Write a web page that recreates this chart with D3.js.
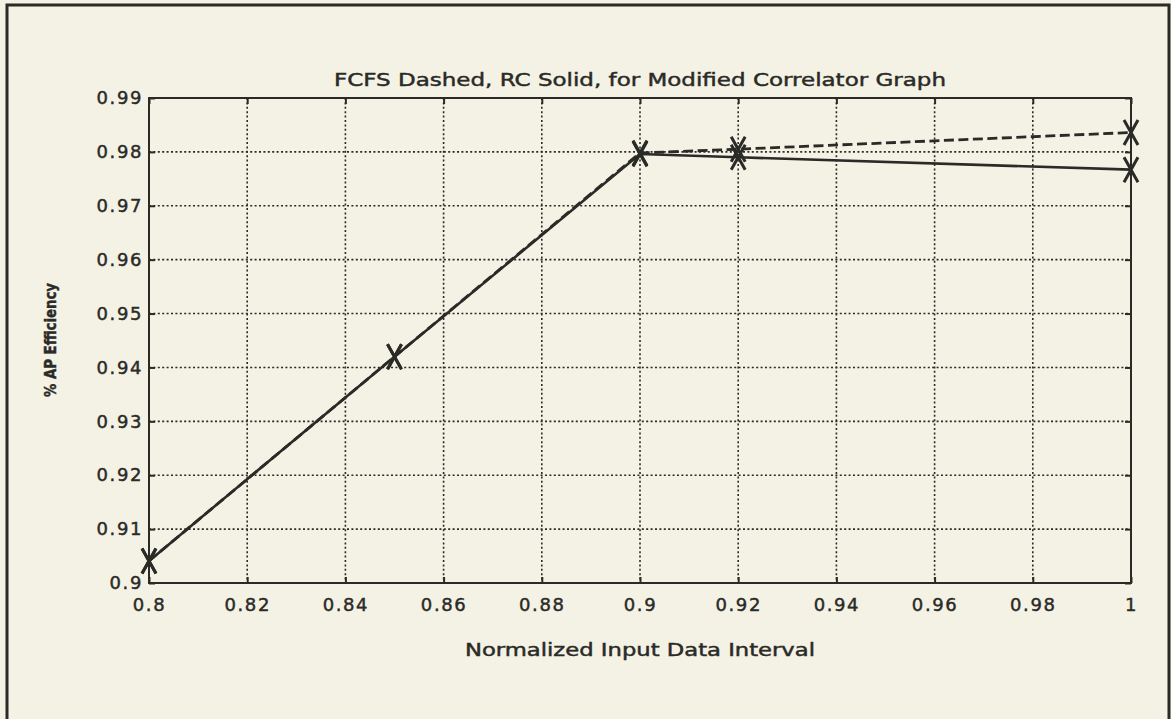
<!DOCTYPE html>
<html>
<head>
<meta charset="utf-8">
<script src="https://cdn.jsdelivr.net/npm/d3@7"></script>
<style>
  html, body { margin: 0; padding: 0; background: #f4f2e5; }
  svg { display: block; }
  text { font-family: "DejaVu Sans", sans-serif; fill: #2a2a27; stroke: #2a2a27; stroke-width: 0.45px; }
</style>
</head>
<body>
<svg id="chart" width="1171" height="719"></svg>
<script>
// Normalized input data interval (x) and AP efficiency for each scheduler
const intervals = [0.80, 0.85, 0.90, 0.92, 1.00];
const fcfsEfficiency = [0.9041, 0.9420, 0.9798, 0.9805, 0.9836];
const rcEfficiency = [0.9041, 0.9420, 0.9796, 0.9790, 0.9767];

const xTicks = [0.80, 0.82, 0.84, 0.86, 0.88, 0.90, 0.92, 0.94, 0.96, 0.98, 1.00];
const xTickLabels = ["0.8", "0.82", "0.84", "0.86", "0.88", "0.9", "0.92", "0.94", "0.96", "0.98", "1"];
const yTicks = [0.90, 0.91, 0.92, 0.93, 0.94, 0.95, 0.96, 0.97, 0.98, 0.99];
const yTickLabels = ["0.9", "0.91", "0.92", "0.93", "0.94", "0.95", "0.96", "0.97", "0.98", "0.99"];

const titleText = "FCFS Dashed, RC Solid, for Modified Correlator Graph";
const xLabelText = "Normalized Input Data Interval";
const yLabelText = "% AP Efficiency";

const ink = "#2a2a27";
const svg = d3.select("#chart");

// outer frame
svg.append("rect")
  .attr("x", 7).attr("y", 5).attr("width", 1162).attr("height", 730)
  .attr("fill", "none").attr("stroke", ink).attr("stroke-width", 3);

const plotL = 149, plotR = 1131, plotT = 98, plotB = 583;
const x = d3.scaleLinear().domain([0.8, 1.0]).range([plotL, plotR]);
const y = d3.scaleLinear().domain([0.9, 0.99]).range([plotB, plotT]);

// dotted grid
const grid = svg.append("g").attr("stroke", ink).attr("stroke-width", 1.6)
  .attr("stroke-dasharray", "2,2.4");
grid.selectAll("line.v").data(xTicks.slice(1, -1)).join("line")
  .attr("class", "v")
  .attr("x1", d => x(d)).attr("x2", d => x(d))
  .attr("y1", plotT).attr("y2", plotB);
grid.selectAll("line.h").data(yTicks.slice(1, -1)).join("line")
  .attr("class", "h")
  .attr("x1", plotL).attr("x2", plotR)
  .attr("y1", d => y(d)).attr("y2", d => y(d));

// axes with inward ticks
const fmtX = d => xTickLabels[xTicks.indexOf(d)];
const fmtY = d => yTickLabels[yTicks.indexOf(d)];

function styleAxis(g) {
  g.attr("font-size", null).attr("font-family", null);
  g.select(".domain").remove();
  g.selectAll(".tick line").attr("stroke", ink).attr("stroke-width", 2);
  g.selectAll(".tick text")
    .style("font-family", "'DejaVu Sans', sans-serif")
    .style("font-size", "18px")
    .style("letter-spacing", "1.6px")
    .attr("fill", ink);
}

svg.append("g").attr("transform", `translate(0,${plotB})`)
  .call(d3.axisBottom(x).tickValues(xTicks).tickFormat(fmtX).tickSize(-6).tickPadding(15))
  .call(styleAxis);
svg.append("g").attr("transform", `translate(${plotL},0)`)
  .call(d3.axisLeft(y).tickValues(yTicks).tickFormat(fmtY).tickSize(-6).tickPadding(6))
  .call(styleAxis);
svg.append("g").attr("transform", `translate(0,${plotT})`)
  .call(d3.axisTop(x).tickValues(xTicks).tickFormat("").tickSize(-6))
  .call(styleAxis);
svg.append("g").attr("transform", `translate(${plotR},0)`)
  .call(d3.axisRight(y).tickValues(yTicks).tickFormat("").tickSize(-6))
  .call(styleAxis);

// plot box
svg.append("rect")
  .attr("x", plotL).attr("y", plotT).attr("width", plotR - plotL).attr("height", plotB - plotT)
  .attr("fill", "none").attr("stroke", ink).attr("stroke-width", 2);

// series: FCFS dashed underneath, RC solid on top
const line = d3.line().x(d => x(d[0])).y(d => y(d[1]));
const rcPts = intervals.map((v, i) => [v, rcEfficiency[i]]);
const fcfsPts = intervals.map((v, i) => [v, fcfsEfficiency[i]]);

svg.append("path").datum(fcfsPts).attr("d", line)
  .attr("fill", "none").attr("stroke", ink).attr("stroke-width", 2.8)
  .attr("stroke-dasharray", "10,4.5");
svg.append("path").datum(rcPts).attr("d", line)
  .attr("fill", "none").attr("stroke", ink).attr("stroke-width", 2.6);

// X markers
const marker = "M-7,-12.5 L7,12.5 M7,-12.5 L-7,12.5";
[rcPts, fcfsPts].forEach(pts => {
  svg.append("g").selectAll("path").data(pts).join("path")
    .attr("transform", d => `translate(${x(d[0])},${y(d[1])})`)
    .attr("d", marker)
    .attr("fill", "none").attr("stroke", ink).attr("stroke-width", 3);
});

// titles
svg.append("text")
  .attr("x", 640).attr("y", 86).attr("text-anchor", "middle")
  .attr("textLength", 612).attr("lengthAdjust", "spacingAndGlyphs")
  .style("font-size", "18px")
  .text(titleText);

svg.append("text")
  .attr("x", 640).attr("y", 656).attr("text-anchor", "middle")
  .attr("textLength", 350).attr("lengthAdjust", "spacingAndGlyphs")
  .style("font-size", "17px")
  .text(xLabelText);

svg.append("text")
  .attr("transform", "translate(56,340) rotate(-90)")
  .attr("text-anchor", "middle")
  .attr("textLength", 114).attr("lengthAdjust", "spacingAndGlyphs")
  .style("font-size", "16px").style("font-weight", "bold")
  .text(yLabelText);
</script>
</body>
</html>
